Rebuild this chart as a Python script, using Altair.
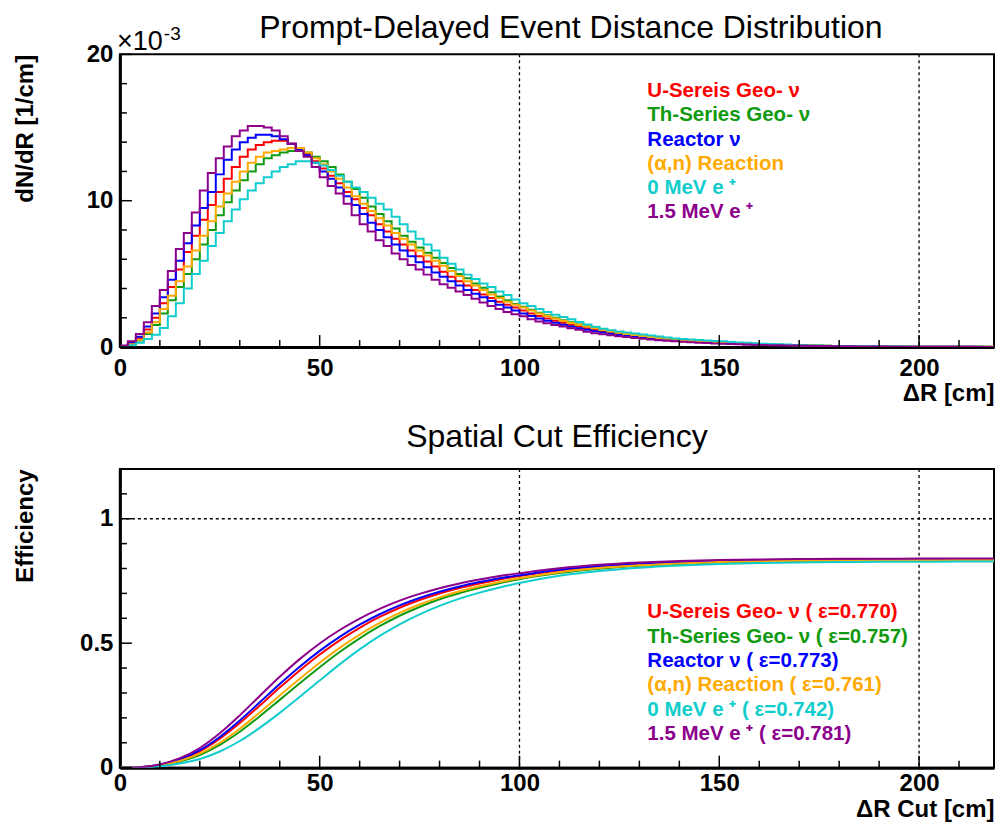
import altair as alt
import pandas as pd

FONT = "Liberation Sans"

# ---------------- data ----------------
SERIES = ["U", "Th", "Reactor", "AlphaN", "E0", "E15"]
COLORS = ["#ff0000", "#109a10", "#0000ff", "#ffaa00", "#11cccc", "#8c008c"]
TOP_LABELS = ["U-Sereis Geo-  ν", "Th-Series Geo-  ν", "Reactor  ν", "(α,n) Reaction", "0 MeV e ⁺", "1.5 MeV e ⁺"]
EPS_LABELS = ["U-Sereis Geo-  ν ( ε=0.770)", "Th-Series Geo-  ν ( ε=0.757)", "Reactor  ν ( ε=0.773)",
              "(α,n) Reaction (  ε=0.761)", "0 MeV e ⁺ ( ε=0.742)", "1.5 MeV e ⁺ ( ε=0.781)"]

# histogram bin edges (cm), 2 cm bins
BIN_EDGES = list(range(0, 222, 2))

# dN/dR values in units of 1e-3 / cm, one per 2 cm bin
HIST_U = [0.06, 0.25, 0.6, 1.2, 2.0, 3.0, 4.1, 5.3, 6.5, 7.6,
          8.7, 9.7, 10.6, 11.5, 12.3, 13.0, 13.5, 13.8, 14.0, 14.1,
          14.1, 13.9, 13.6, 13.2, 12.7, 12.2, 11.7, 11.2, 10.6, 10.1,
          9.5, 9.0, 8.4, 7.9, 7.4, 7.0, 6.6, 6.2, 5.85, 5.5,
          5.15, 4.8, 4.5, 4.2, 3.9, 3.6, 3.35, 3.1, 2.9, 2.7,
          2.5, 2.3, 2.12, 1.96, 1.8, 1.66, 1.52, 1.4, 1.28, 1.17,
          1.07, 0.98, 0.9, 0.82, 0.75, 0.69, 0.63, 0.57, 0.52, 0.47,
          0.43, 0.39, 0.36, 0.33, 0.3, 0.27, 0.25, 0.22, 0.2, 0.18,
          0.17, 0.15, 0.14, 0.13, 0.12, 0.11, 0.1, 0.09, 0.08, 0.072,
          0.065, 0.058, 0.052, 0.047, 0.043, 0.039, 0.035, 0.032, 0.029, 0.026,
          0.024, 0.022, 0.02, 0.019, 0.018, 0.017, 0.016, 0.015, 0.014, 0.013]
HIST_TH = [0.04, 0.18, 0.45, 0.9, 1.5, 2.3, 3.2, 4.1, 5.0, 6.0,
           7.0, 8.0, 9.0, 9.9, 10.7, 11.4, 12.0, 12.5, 12.9, 13.1,
           13.3, 13.4, 13.4, 13.3, 13.0, 12.7, 12.3, 11.8, 11.3, 10.8,
           10.2, 9.6, 9.1, 8.6, 8.1, 7.6, 7.2, 6.8, 6.45, 6.1,
           5.75, 5.4, 5.0, 4.7, 4.35, 4.05, 3.75, 3.45, 3.2, 2.95,
           2.75, 2.55, 2.35, 2.17, 2.0, 1.84, 1.69, 1.55, 1.42, 1.3,
           1.19, 1.09, 1.0, 0.92, 0.84, 0.77, 0.7, 0.64, 0.58, 0.53,
           0.48, 0.44, 0.4, 0.36, 0.33, 0.3, 0.27, 0.25, 0.23, 0.21,
           0.19, 0.17, 0.155, 0.14, 0.13, 0.12, 0.11, 0.1, 0.09, 0.08,
           0.072, 0.065, 0.058, 0.052, 0.047, 0.043, 0.039, 0.035, 0.032, 0.029,
           0.026, 0.024, 0.022, 0.021, 0.02, 0.019, 0.018, 0.017, 0.016, 0.015]
HIST_REACTOR = [0.08, 0.3, 0.7, 1.4, 2.3, 3.4, 4.6, 5.9, 7.1, 8.3,
                9.5, 10.6, 11.8, 12.8, 13.5, 14.0, 14.3, 14.5, 14.5, 14.4,
                14.2, 13.9, 13.5, 13.1, 12.6, 12.0, 11.5, 10.9, 10.3, 9.7,
                9.1, 8.5, 8.0, 7.5, 7.0, 6.6, 6.2, 5.8, 5.45, 5.1,
                4.8, 4.5, 4.2, 3.9, 3.65, 3.4, 3.15, 2.9, 2.7, 2.5,
                2.3, 2.12, 1.96, 1.8, 1.66, 1.53, 1.4, 1.29, 1.18, 1.08,
                0.99, 0.91, 0.83, 0.76, 0.7, 0.64, 0.58, 0.53, 0.48, 0.44,
                0.4, 0.37, 0.34, 0.31, 0.28, 0.26, 0.23, 0.21, 0.19, 0.17,
                0.16, 0.14, 0.13, 0.12, 0.11, 0.1, 0.09, 0.08, 0.075, 0.068,
                0.06, 0.055, 0.05, 0.045, 0.042, 0.038, 0.034, 0.031, 0.028, 0.025,
                0.023, 0.021, 0.02, 0.018, 0.017, 0.016, 0.015, 0.014, 0.013, 0.012]
HIST_ALPHAN = [0.05, 0.2, 0.5, 1.0, 1.7, 2.6, 3.5, 4.5, 5.5, 6.6,
               7.6, 8.6, 9.6, 10.5, 11.3, 12.0, 12.6, 13.0, 13.3, 13.4,
               13.5, 13.6, 13.6, 13.3, 12.9, 12.5, 12.0, 11.5, 10.9, 10.3,
               9.8, 9.3, 8.8, 8.3, 7.8, 7.4, 7.0, 6.6, 6.25, 5.9,
               5.55, 5.2, 4.85, 4.5, 4.2, 3.9, 3.6, 3.35, 3.1, 2.9,
               2.7, 2.5, 2.3, 2.12, 1.95, 1.8, 1.65, 1.52, 1.4, 1.28,
               1.17, 1.07, 0.98, 0.9, 0.82, 0.75, 0.68, 0.62, 0.56, 0.51,
               0.46, 0.42, 0.38, 0.35, 0.32, 0.29, 0.26, 0.24, 0.22, 0.2,
               0.18, 0.16, 0.15, 0.14, 0.12, 0.11, 0.1, 0.09, 0.082, 0.075,
               0.068, 0.061, 0.055, 0.05, 0.045, 0.041, 0.037, 0.034, 0.031, 0.028,
               0.025, 0.023, 0.021, 0.02, 0.019, 0.018, 0.017, 0.016, 0.015, 0.014]
HIST_E0 = [0.03, 0.12, 0.3, 0.55, 0.85, 1.3, 2.1, 3.0, 4.0, 5.0,
           5.9, 6.9, 7.8, 8.6, 9.4, 10.1, 10.7, 11.2, 11.6, 12.0,
           12.3, 12.5, 12.7, 12.7, 12.6, 12.4, 12.1, 11.7, 11.3, 10.9,
           10.6, 10.2, 9.8, 9.4, 8.9, 8.4, 7.9, 7.4, 7.0, 6.6,
           6.1, 5.7, 5.3, 4.95, 4.65, 4.35, 4.1, 3.8, 3.55, 3.25,
           3.0, 2.8, 2.6, 2.4, 2.2, 2.05, 1.9, 1.72, 1.55, 1.38,
           1.25, 1.15, 1.07, 1.0, 0.93, 0.86, 0.79, 0.72, 0.65, 0.59,
           0.55, 0.51, 0.48, 0.45, 0.42, 0.39, 0.35, 0.32, 0.29, 0.26,
           0.23, 0.21, 0.19, 0.17, 0.15, 0.13, 0.11, 0.1, 0.09, 0.08,
           0.07, 0.065, 0.06, 0.055, 0.05, 0.045, 0.04, 0.037, 0.034, 0.03,
           0.028, 0.026, 0.024, 0.022, 0.02, 0.018, 0.016, 0.015, 0.014, 0.013]
HIST_E15 = [0.1, 0.4, 0.9, 1.7, 2.8, 3.9, 5.2, 6.7, 7.8, 9.2,
            10.7, 11.9, 12.9, 13.7, 14.4, 14.8, 15.1, 15.1, 15.0, 14.8,
            14.4, 13.9, 13.4, 13.0, 12.3, 11.6, 11.0, 10.5, 9.8, 9.0,
            8.4, 7.9, 7.3, 6.9, 6.4, 6.0, 5.6, 5.3, 4.95, 4.6,
            4.3, 4.05, 3.8, 3.55, 3.3, 3.05, 2.8, 2.6, 2.4, 2.25,
            2.1, 1.9, 1.75, 1.62, 1.5, 1.4, 1.28, 1.18, 1.05, 0.95,
            0.88, 0.8, 0.74, 0.68, 0.62, 0.57, 0.52, 0.47, 0.43, 0.39,
            0.36, 0.33, 0.3, 0.28, 0.25, 0.23, 0.21, 0.19, 0.17, 0.16,
            0.14, 0.13, 0.12, 0.11, 0.1, 0.09, 0.08, 0.075, 0.07, 0.06,
            0.055, 0.05, 0.045, 0.04, 0.038, 0.035, 0.03, 0.028, 0.025, 0.023,
            0.021, 0.02, 0.018, 0.017, 0.016, 0.015, 0.014, 0.013, 0.012, 0.011]
HISTS = [HIST_U, HIST_TH, HIST_REACTOR, HIST_ALPHAN, HIST_E0, HIST_E15]

# efficiency vs cut
EFF_X = [0, 5, 10, 15, 20, 25, 30, 35, 40, 45, 50, 55, 60, 65, 70, 75, 80, 85, 90, 95, 100,
         110, 120, 130, 140, 150, 160, 170, 180, 190, 200, 210, 220]
EFF_U = [0, 0.0017, 0.0109, 0.0317, 0.0658, 0.1161, 0.1791, 0.2496, 0.3215, 0.3904, 0.4543,
         0.5116, 0.5618, 0.6053, 0.6425, 0.6734, 0.6997, 0.7217, 0.7401, 0.7562, 0.770,
         0.792, 0.8075, 0.8177, 0.8246, 0.8292, 0.8318, 0.8338, 0.8351, 0.8354, 0.8361, 0.8364, 0.8364]
EFF_TH = [0, 0.0014, 0.0085, 0.0246, 0.0508, 0.0913, 0.1441, 0.2061, 0.2722, 0.3387, 0.4036,
          0.4647, 0.5196, 0.5682, 0.6102, 0.6455, 0.6766, 0.701, 0.7221, 0.7406, 0.757,
          0.7818, 0.799, 0.8106, 0.8185, 0.8238, 0.827, 0.829, 0.8307, 0.8313, 0.8317, 0.8323, 0.8323]
EFF_REACTOR = [0, 0.0018, 0.0116, 0.0338, 0.0702, 0.1234, 0.1894, 0.2624, 0.336, 0.4056, 0.4692,
               0.5254, 0.5742, 0.6162, 0.652, 0.6816, 0.7068, 0.7278, 0.7454, 0.7608, 0.773,
               0.795, 0.81, 0.8198, 0.8264, 0.8308, 0.8332, 0.8352, 0.8364, 0.8366, 0.8374, 0.8376, 0.8376]
EFF_ALPHAN = [0, 0.0015, 0.0094, 0.0271, 0.0561, 0.1, 0.1564, 0.2214, 0.2896, 0.357, 0.4215,
              0.4812, 0.5345, 0.5813, 0.6216, 0.6554, 0.6841, 0.7083, 0.7284, 0.7461, 0.761,
              0.7854, 0.802, 0.8131, 0.8206, 0.8257, 0.8287, 0.8307, 0.8322, 0.8328, 0.8332, 0.8338, 0.8338]
EFF_E0 = [0, 0.001, 0.006, 0.017, 0.035, 0.065, 0.107, 0.16, 0.22, 0.284, 0.35,
          0.415, 0.475, 0.529, 0.576, 0.616, 0.65, 0.679, 0.703, 0.724, 0.742,
          0.771, 0.79, 0.803, 0.812, 0.818, 0.822, 0.824, 0.826, 0.827, 0.827, 0.828, 0.828]
EFF_E15 = [0, 0.002, 0.013, 0.038, 0.079, 0.138, 0.21, 0.288, 0.365, 0.436, 0.499,
           0.553, 0.599, 0.638, 0.671, 0.698, 0.721, 0.740, 0.756, 0.770, 0.781,
           0.801, 0.815, 0.824, 0.83, 0.834, 0.836, 0.838, 0.839, 0.839, 0.84, 0.84, 0.84]
EFFS = [EFF_U, EFF_TH, EFF_REACTOR, EFF_ALPHAN, EFF_E0, EFF_E15]

X_LABEL_VALUES = [0, 50, 100, 150, 200]
X_MINOR = [10, 20, 30, 40, 60, 70, 80, 90, 110, 120, 130, 140, 160, 170, 180, 190, 210]
TOP_Y_MAJOR = [0, 10, 20]
TOP_Y_MINOR = [2, 4, 6, 8, 12, 14, 16, 18]
BOT_Y_MAJOR = [0, 0.5, 1]
BOT_Y_MINOR = [0.1, 0.2, 0.3, 0.4, 0.6, 0.7, 0.8, 0.9, 1.1]
GRID_X = [100, 200]
GRID_Y_BOT = [1]

# ---------------- layout ----------------
W, H1, H2 = 875, 293, 299
X_END = 218.75
XS = alt.Scale(domain=[0, X_END], nice=False, zero=False)
YS1 = alt.Scale(domain=[0, 20], nice=False)
YS2 = alt.Scale(domain=[0, 1.2], nice=False)


def x_axis(title, lpad, tpad):
    return alt.Axis(values=X_LABEL_VALUES, ticks=False, tickSize=0, grid=False,
                    labelFontSize=24, labelFontWeight="bold", labelPadding=lpad,
                    labelFlush=False, title=title, titleAnchor="end",
                    titleFontSize=24, titleFontWeight="bold", titlePadding=tpad)


def y_axis(title, values, fmt):
    return alt.Axis(values=values, ticks=False, tickSize=0, grid=False, format=fmt,
                    labelFontSize=24, labelFontWeight="bold", labelPadding=7,
                    title=title, titleAnchor="end", titleFontSize=24,
                    titleFontWeight="bold", titlePadding=6,
                    minExtent=76, maxExtent=76)


def panel(lines_df_list, interp, ys, H, XA, YA, ymajor, yminor,
          labels, label_y0, grid_y):
    layers = []
    # dashed grid lines
    layers.append(alt.Chart(pd.DataFrame({"x": GRID_X})).mark_rule(
        color="black", strokeWidth=1.3, strokeDash=[3, 3]).encode(
        x=alt.X("x:Q", scale=XS, axis=XA), y=alt.value(0), y2=alt.value(H)))
    if grid_y:
        layers.append(alt.Chart(pd.DataFrame({"y": grid_y})).mark_rule(
            color="black", strokeWidth=1.3, strokeDash=[3, 3]).encode(
            y=alt.Y("y:Q", scale=ys, axis=YA), x=alt.value(0), x2=alt.value(W)))
    for df, col in zip(lines_df_list, COLORS):
        layers.append(alt.Chart(df).mark_line(
            interpolate=interp, strokeWidth=2, color=col, clip=True).encode(
            x=alt.X("x:Q", scale=XS, axis=XA),
            y=alt.Y("y:Q", scale=ys, axis=YA)))
    # inward ticks
    for vals, L in ((X_LABEL_VALUES, 12), (X_MINOR, 7)):
        layers.append(alt.Chart(pd.DataFrame({"x": vals})).mark_rule(
            color="black", strokeWidth=1.5).encode(
            x=alt.X("x:Q", scale=XS, axis=XA), y=alt.value(H), y2=alt.value(H - L)))
    for vals, L in ((ymajor, 12), (yminor, 7)):
        layers.append(alt.Chart(pd.DataFrame({"y": vals})).mark_rule(
            color="black", strokeWidth=1.5).encode(
            y=alt.Y("y:Q", scale=ys, axis=YA), x=alt.value(0), x2=alt.value(L)))
    # legend texts
    for i, (lab, col) in enumerate(zip(labels, COLORS)):
        layers.append(alt.Chart(pd.DataFrame({"t": [lab]})).mark_text(
            align="left", baseline="middle", font=FONT, fontSize=20.5,
            fontWeight="bold", color=col).encode(
            x=alt.value(528), y=alt.value(label_y0 + 24.3 * i), text="t:N"))
    return layers


top_dfs = []
for vals in HISTS:
    top_dfs.append(pd.DataFrame({"x": BIN_EDGES, "y": vals + [vals[-1]]}))
bot_dfs = []
for vals in EFFS:
    bot_dfs.append(pd.DataFrame({"x": EFF_X, "y": vals}))

top_layers = panel(top_dfs, "step-after", YS1, H1,
                   x_axis("ΔR [cm]", 9, 1),
                   y_axis("dN/dR [1/cm]", TOP_Y_MAJOR, "d"),
                   TOP_Y_MAJOR, TOP_Y_MINOR, TOP_LABELS, 36.7, None)
# exponent label
top_layers.append(alt.Chart(pd.DataFrame({"t": ["×10"]})).mark_text(
    align="left", baseline="middle", font=FONT, fontSize=27, color="black").encode(
    x=alt.value(-3), y=alt.value(-12), text="t:N"))
top_layers.append(alt.Chart(pd.DataFrame({"t": ["-3"]})).mark_text(
    align="left", baseline="middle", font=FONT, fontSize=19, color="black").encode(
    x=alt.value(44), y=alt.value(-20), text="t:N"))

bot_layers = panel(bot_dfs, "monotone", YS2, H2,
                   x_axis("ΔR Cut [cm]", 4, 2),
                   y_axis("Efficiency", BOT_Y_MAJOR, "~g"),
                   BOT_Y_MAJOR, BOT_Y_MINOR, EPS_LABELS, 143.7, GRID_Y_BOT)

top = alt.layer(*top_layers).properties(
    width=W, height=H1,
    title=alt.TitleParams("Prompt-Delayed Event Distance Distribution", font=FONT,
                          fontSize=32, fontWeight="normal", color="black",
                          offset=-20, dx=14))
bottom = alt.layer(*bot_layers).properties(
    width=W, height=H2,
    title=alt.TitleParams("Spatial Cut Efficiency", font=FONT, fontSize=32,
                          fontWeight="normal", color="black", offset=14))

chart = alt.vconcat(top, bottom, spacing=14).properties(
    padding={"left": 4, "top": 3, "right": 0, "bottom": 0},
    background="white",
).configure_view(stroke="black", strokeWidth=2).configure_axis(
    domainColor="black", domainWidth=3, labelColor="black", titleColor="black",
    labelFont=FONT, titleFont=FONT)

chart.save("out.html", embed_options={"renderer": "svg", "actions": False})
